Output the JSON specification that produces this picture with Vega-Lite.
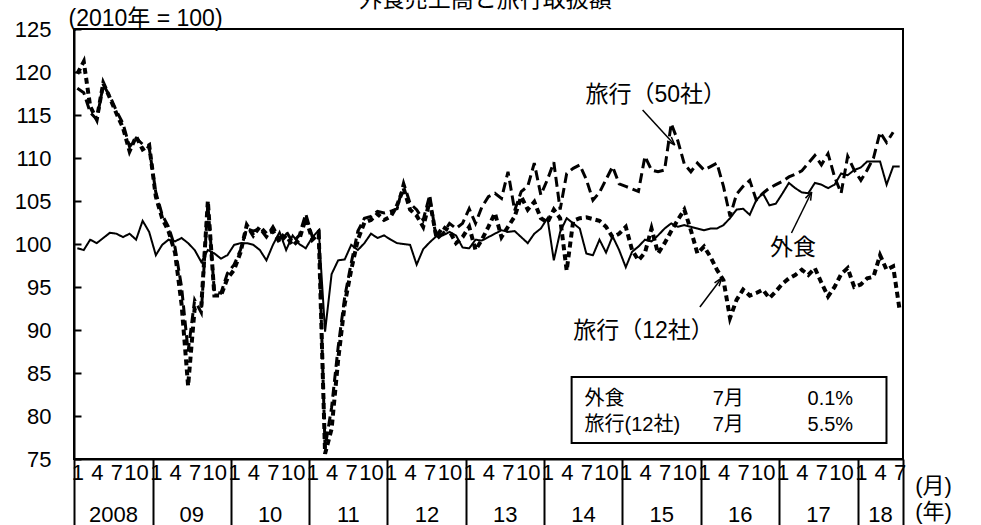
{
  "$schema": "https://vega.github.io/schema/vega-lite/v6.json",
  "width": 829,
  "height": 430,
  "autosize": "none",
  "padding": {"left": 74, "top": 29, "right": 78, "bottom": 66},
  "background": "white",
  "config": {
    "font": "Liberation Sans, Noto Sans CJK JP",
    "view": {"stroke": "black", "strokeWidth": 2},
    "axis": {"labelColor": "black", "titleColor": "black", "titleFontWeight": "normal"}
  },
  "data": {
    "values": [
      {"month": "2008-01", "food": 99.5, "travel50": 118.1, "travel12": 119.8},
      {"month": "2008-02", "food": 99.3, "travel50": 117.6, "travel12": 121.2},
      {"month": "2008-03", "food": 100.5, "travel50": 115.3, "travel12": 116.0},
      {"month": "2008-04", "food": 100.1, "travel50": 114.5, "travel12": 114.5},
      {"month": "2008-05", "food": 100.7, "travel50": 118.5, "travel12": 118.7},
      {"month": "2008-06", "food": 101.3, "travel50": 117.2, "travel12": 117.0},
      {"month": "2008-07", "food": 101.2, "travel50": 115.5, "travel12": 115.2},
      {"month": "2008-08", "food": 100.8, "travel50": 114.0, "travel12": 113.5},
      {"month": "2008-09", "food": 101.2, "travel50": 111.3, "travel12": 110.8},
      {"month": "2008-10", "food": 100.5, "travel50": 112.3, "travel12": 112.5},
      {"month": "2008-11", "food": 102.7, "travel50": 111.6, "travel12": 111.0},
      {"month": "2008-12", "food": 101.4, "travel50": 111.2, "travel12": 111.5},
      {"month": "2009-01", "food": 98.7, "travel50": 106.0, "travel12": 105.5},
      {"month": "2009-02", "food": 99.9, "travel50": 103.4, "travel12": 103.0},
      {"month": "2009-03", "food": 100.5, "travel50": 102.0, "travel12": 101.5},
      {"month": "2009-04", "food": 100.3, "travel50": 99.6, "travel12": 99.0},
      {"month": "2009-05", "food": 100.7, "travel50": 95.0, "travel12": 93.0},
      {"month": "2009-06", "food": 100.1, "travel50": 87.5, "travel12": 83.5},
      {"month": "2009-07", "food": 99.3, "travel50": 93.5, "travel12": 92.5},
      {"month": "2009-08", "food": 97.9, "travel50": 92.0, "travel12": 92.8},
      {"month": "2009-09", "food": 99.3, "travel50": 104.7, "travel12": 105.0},
      {"month": "2009-10", "food": 98.9, "travel50": 94.4, "travel12": 94.0},
      {"month": "2009-11", "food": 98.3, "travel50": 94.3, "travel12": 94.0},
      {"month": "2009-12", "food": 98.7, "travel50": 96.6, "travel12": 96.0},
      {"month": "2010-01", "food": 99.9, "travel50": 97.6, "travel12": 97.0},
      {"month": "2010-02", "food": 100.1, "travel50": 99.3, "travel12": 99.0},
      {"month": "2010-03", "food": 100.1, "travel50": 101.8, "travel12": 102.2},
      {"month": "2010-04", "food": 99.9, "travel50": 101.5, "travel12": 101.0},
      {"month": "2010-05", "food": 99.3, "travel50": 101.8, "travel12": 102.0},
      {"month": "2010-06", "food": 98.1, "travel50": 100.8, "travel12": 101.2},
      {"month": "2010-07", "food": 99.9, "travel50": 102.0, "travel12": 101.5},
      {"month": "2010-08", "food": 101.4, "travel50": 100.6, "travel12": 100.2},
      {"month": "2010-09", "food": 99.3, "travel50": 101.5, "travel12": 101.0},
      {"month": "2010-10", "food": 101.0, "travel50": 100.2, "travel12": 99.8},
      {"month": "2010-11", "food": 100.0, "travel50": 101.0, "travel12": 100.5},
      {"month": "2010-12", "food": 99.5, "travel50": 103.5, "travel12": 103.0},
      {"month": "2011-01", "food": 100.8, "travel50": 100.8, "travel12": 100.5},
      {"month": "2011-02", "food": 101.6, "travel50": 101.5, "travel12": 101.2},
      {"month": "2011-03", "food": 89.8, "travel50": 76.3, "travel12": 75.6},
      {"month": "2011-04", "food": 96.5, "travel50": 81.0, "travel12": 78.5},
      {"month": "2011-05", "food": 98.1, "travel50": 88.0, "travel12": 86.5},
      {"month": "2011-06", "food": 98.2, "travel50": 93.8, "travel12": 93.0},
      {"month": "2011-07", "food": 99.9, "travel50": 97.8, "travel12": 97.0},
      {"month": "2011-08", "food": 99.3, "travel50": 101.5, "travel12": 100.5},
      {"month": "2011-09", "food": 100.1, "travel50": 103.0, "travel12": 102.5},
      {"month": "2011-10", "food": 101.2, "travel50": 103.2, "travel12": 102.8},
      {"month": "2011-11", "food": 100.7, "travel50": 103.8, "travel12": 103.5},
      {"month": "2011-12", "food": 101.0, "travel50": 103.6, "travel12": 102.8},
      {"month": "2012-01", "food": 100.5, "travel50": 103.8, "travel12": 103.2},
      {"month": "2012-02", "food": 100.1, "travel50": 104.1, "travel12": 104.5},
      {"month": "2012-03", "food": 100.0, "travel50": 107.1, "travel12": 106.5},
      {"month": "2012-04", "food": 99.9, "travel50": 104.7, "travel12": 104.0},
      {"month": "2012-05", "food": 97.6, "travel50": 104.0, "travel12": 103.3},
      {"month": "2012-06", "food": 99.4, "travel50": 102.8, "travel12": 102.0},
      {"month": "2012-07", "food": 100.2, "travel50": 105.7, "travel12": 105.0},
      {"month": "2012-08", "food": 100.9, "travel50": 100.5, "travel12": 100.8},
      {"month": "2012-09", "food": 101.0, "travel50": 101.2, "travel12": 102.0},
      {"month": "2012-10", "food": 101.4, "travel50": 102.4, "travel12": 101.5},
      {"month": "2012-11", "food": 101.0, "travel50": 101.8, "travel12": 100.1},
      {"month": "2012-12", "food": 99.6, "travel50": 102.4, "travel12": 100.8},
      {"month": "2013-01", "food": 99.5, "travel50": 104.1, "travel12": 102.0},
      {"month": "2013-02", "food": 100.5, "travel50": 102.4, "travel12": 99.3},
      {"month": "2013-03", "food": 100.4, "travel50": 104.3, "travel12": 100.5},
      {"month": "2013-04", "food": 100.8, "travel50": 105.5, "travel12": 102.0},
      {"month": "2013-05", "food": 101.2, "travel50": 105.9, "travel12": 103.6},
      {"month": "2013-06", "food": 101.6, "travel50": 105.3, "travel12": 100.8},
      {"month": "2013-07", "food": 101.4, "travel50": 108.4, "travel12": 102.0},
      {"month": "2013-08", "food": 101.5, "travel50": 103.9, "travel12": 103.2},
      {"month": "2013-09", "food": 100.8, "travel50": 106.1, "travel12": 105.5},
      {"month": "2013-10", "food": 100.1, "travel50": 106.7, "travel12": 104.0},
      {"month": "2013-11", "food": 101.2, "travel50": 109.4, "travel12": 104.9},
      {"month": "2013-12", "food": 101.8, "travel50": 105.7, "travel12": 103.0},
      {"month": "2014-01", "food": 103.0, "travel50": 107.5, "travel12": 102.5},
      {"month": "2014-02", "food": 98.1, "travel50": 109.5, "travel12": 104.0},
      {"month": "2014-03", "food": 101.4, "travel50": 104.0, "travel12": 103.0},
      {"month": "2014-04", "food": 103.0, "travel50": 108.2, "travel12": 96.9},
      {"month": "2014-05", "food": 102.4, "travel50": 108.8, "travel12": 102.7},
      {"month": "2014-06", "food": 101.8, "travel50": 109.2, "travel12": 103.0},
      {"month": "2014-07", "food": 98.9, "travel50": 107.5, "travel12": 103.1},
      {"month": "2014-08", "food": 98.7, "travel50": 105.1, "travel12": 102.9},
      {"month": "2014-09", "food": 100.5, "travel50": 106.0, "travel12": 102.7},
      {"month": "2014-10", "food": 99.0, "travel50": 107.5, "travel12": 102.0},
      {"month": "2014-11", "food": 100.9, "travel50": 109.0, "travel12": 100.8},
      {"month": "2014-12", "food": 99.3, "travel50": 107.0, "travel12": 101.2},
      {"month": "2015-01", "food": 97.3, "travel50": 106.7, "travel12": 102.0},
      {"month": "2015-02", "food": 99.1, "travel50": 106.4, "travel12": 99.3},
      {"month": "2015-03", "food": 99.7, "travel50": 106.1, "travel12": 98.1},
      {"month": "2015-04", "food": 100.5, "travel50": 110.2, "travel12": 99.0},
      {"month": "2015-05", "food": 100.3, "travel50": 108.6, "travel12": 101.8},
      {"month": "2015-06", "food": 101.0, "travel50": 108.4, "travel12": 98.9},
      {"month": "2015-07", "food": 101.8, "travel50": 108.6, "travel12": 100.1},
      {"month": "2015-08", "food": 102.4, "travel50": 114.0, "travel12": 101.5},
      {"month": "2015-09", "food": 102.0, "travel50": 112.0, "travel12": 102.8},
      {"month": "2015-10", "food": 102.2, "travel50": 109.3, "travel12": 104.0},
      {"month": "2015-11", "food": 102.0, "travel50": 108.4, "travel12": 101.6},
      {"month": "2015-12", "food": 101.8, "travel50": 109.4, "travel12": 98.9},
      {"month": "2016-01", "food": 101.6, "travel50": 108.6, "travel12": 99.7},
      {"month": "2016-02", "food": 101.8, "travel50": 109.0, "travel12": 98.5},
      {"month": "2016-03", "food": 101.8, "travel50": 109.4, "travel12": 97.0},
      {"month": "2016-04", "food": 102.2, "travel50": 106.7, "travel12": 95.8},
      {"month": "2016-05", "food": 103.0, "travel50": 103.2, "travel12": 91.4},
      {"month": "2016-06", "food": 104.0, "travel50": 105.8, "travel12": 93.5},
      {"month": "2016-07", "food": 104.1, "travel50": 106.7, "travel12": 94.7},
      {"month": "2016-08", "food": 103.4, "travel50": 107.4, "travel12": 94.0},
      {"month": "2016-09", "food": 105.1, "travel50": 105.1, "travel12": 94.3},
      {"month": "2016-10", "food": 105.9, "travel50": 105.9, "travel12": 94.7},
      {"month": "2016-11", "food": 104.5, "travel50": 106.5, "travel12": 93.7},
      {"month": "2016-12", "food": 104.7, "travel50": 106.9, "travel12": 94.5},
      {"month": "2017-01", "food": 105.9, "travel50": 107.3, "travel12": 95.4},
      {"month": "2017-02", "food": 107.1, "travel50": 107.8, "travel12": 96.0},
      {"month": "2017-03", "food": 106.5, "travel50": 108.1, "travel12": 96.4},
      {"month": "2017-04", "food": 106.0, "travel50": 108.5, "travel12": 97.0},
      {"month": "2017-05", "food": 105.9, "travel50": 109.4, "travel12": 96.4},
      {"month": "2017-06", "food": 107.1, "travel50": 110.3, "travel12": 97.2},
      {"month": "2017-07", "food": 106.9, "travel50": 109.2, "travel12": 95.5},
      {"month": "2017-08", "food": 106.5, "travel50": 110.5, "travel12": 93.9},
      {"month": "2017-09", "food": 106.9, "travel50": 107.8, "travel12": 95.0},
      {"month": "2017-10", "food": 108.2, "travel50": 105.9, "travel12": 96.5},
      {"month": "2017-11", "food": 108.0, "travel50": 110.2, "travel12": 97.2},
      {"month": "2017-12", "food": 108.6, "travel50": 108.6, "travel12": 95.0},
      {"month": "2018-01", "food": 108.9, "travel50": 107.4, "travel12": 95.3},
      {"month": "2018-02", "food": 109.6, "travel50": 108.6, "travel12": 96.0},
      {"month": "2018-03", "food": 109.6, "travel50": 110.0, "travel12": 96.2},
      {"month": "2018-04", "food": 109.6, "travel50": 113.0, "travel12": 98.7},
      {"month": "2018-05", "food": 106.9, "travel50": 111.8, "travel12": 97.0},
      {"month": "2018-06", "food": 109.0, "travel50": 113.0, "travel12": 97.4},
      {"month": "2018-07", "food": 109.0, "travel50": null, "travel12": 92.3}
    ]
  },
  "resolve": {"axis": {"x": "independent", "y": "independent"}},
  "layer": [
    {
      "transform": [{"fold": ["food", "travel50", "travel12"], "as": ["series", "value"]}],
      "mark": {"type": "line", "color": "black"},
      "encoding": {
        "x": {
          "field": "month", "timeUnit": "utcyearmonth", "type": "temporal", "bandPosition": 0.5,
          "scale": {"type": "utc", "domain": [{"year": 2008, "month": 1, "date": 1, "utc": true}, {"year": 2018, "month": 8, "date": 1, "utc": true}]},
          "axis": {
            "orient": "bottom", "title": "(月)", "tickCount": {"interval": "month", "step": 3},
            "labelExpr": "utcFormat(datum.value, '%-m')", "ticks": false, "grid": false,
            "domainColor": "black", "domainWidth": 2, "labelFontSize": 22, "labelPadding": 3,
            "labelOffset": 3.3, "labelOverlap": false, "labelFlush": false, "labelBound": false,
            "titleX": 859, "titleY": 26, "titleAngle": 0, "titleAlign": "center", "titleBaseline": "middle", "titleFontSize": 22
          }
        },
        "y": {
          "field": "value", "type": "quantitative",
          "scale": {"domain": [75, 125], "zero": false, "nice": false},
          "axis": {
            "orient": "left",
            "values": [75, 80, 85, 90, 95, 100, 105, 110, 115, 120, 125],
            "tickSize": -7, "tickColor": "black", "tickWidth": 2, "domainColor": "black", "domainWidth": 2,
            "grid": false, "labelFontSize": 22, "labelPadding": 30, "labelFlush": false, "labelOverlap": false,
            "title": "(2010年 = 100)", "titleAngle": 0, "titleX": -6, "titleY": -4, "titleAlign": "left",
            "titleBaseline": "alphabetic", "titleFontSize": 23
          }
        },
        "strokeDash": {"field": "series", "type": "nominal", "scale": {"domain": ["food", "travel50", "travel12"], "range": [[1, 0], [10, 5], [6, 4]]}, "legend": null},
        "strokeWidth": {"field": "series", "type": "nominal", "scale": {"domain": ["food", "travel50", "travel12"], "range": [2, 4, 1.8]}, "legend": null}
      }
    },
    {
      "mark": {"type": "point", "opacity": 0},
      "encoding": {
        "x": {
          "field": "month", "timeUnit": "utcyearmonth", "type": "temporal", "bandPosition": 0.5,
          "scale": {"type": "utc", "domain": [{"year": 2008, "month": 1, "date": 1, "utc": true}, {"year": 2018, "month": 8, "date": 1, "utc": true}]},
          "axis": {
            "orient": "bottom", "title": null, "labels": false, "ticks": true, "tickSize": 66, "tickWidth": 2,
            "tickColor": "black", "domain": false, "grid": false,
            "values": [
              {"year": 2008, "month": 1, "date": 1, "utc": true}, {"year": 2009, "month": 1, "date": 1, "utc": true},
              {"year": 2010, "month": 1, "date": 1, "utc": true}, {"year": 2011, "month": 1, "date": 1, "utc": true},
              {"year": 2012, "month": 1, "date": 1, "utc": true}, {"year": 2013, "month": 1, "date": 1, "utc": true},
              {"year": 2014, "month": 1, "date": 1, "utc": true}, {"year": 2015, "month": 1, "date": 1, "utc": true},
              {"year": 2016, "month": 1, "date": 1, "utc": true}, {"year": 2017, "month": 1, "date": 1, "utc": true},
              {"year": 2018, "month": 1, "date": 1, "utc": true}, {"year": 2018, "month": 8, "date": 1, "utc": true}
            ]
          }
        }
      }
    },
    {
      "mark": {"type": "point", "opacity": 0},
      "encoding": {
        "x": {
          "field": "month", "timeUnit": "utcyearmonth", "type": "temporal", "bandPosition": 0.5,
          "scale": {"type": "utc", "domain": [{"year": 2008, "month": 1, "date": 1, "utc": true}, {"year": 2018, "month": 8, "date": 1, "utc": true}]},
          "axis": {
            "orient": "bottom", "title": "(年)", "ticks": false, "domain": false, "grid": false,
            "labelExpr": "utcyear(datum.value) == 2008 ? '2008' : utcFormat(datum.value, '%y')",
            "labelPadding": 45, "labelFontSize": 22, "labelOverlap": false, "labelFlush": false, "labelBound": false,
            "titleX": 859, "titleY": 52, "titleAngle": 0, "titleAlign": "center", "titleBaseline": "middle", "titleFontSize": 22,
            "values": [
              {"year": 2008, "month": 7, "date": 1, "utc": true}, {"year": 2009, "month": 7, "date": 1, "utc": true},
              {"year": 2010, "month": 7, "date": 1, "utc": true}, {"year": 2011, "month": 7, "date": 1, "utc": true},
              {"year": 2012, "month": 7, "date": 1, "utc": true}, {"year": 2013, "month": 7, "date": 1, "utc": true},
              {"year": 2014, "month": 7, "date": 1, "utc": true}, {"year": 2015, "month": 7, "date": 1, "utc": true},
              {"year": 2016, "month": 7, "date": 1, "utc": true}, {"year": 2017, "month": 7, "date": 1, "utc": true},
              {"year": 2018, "month": 4, "date": 16, "utc": true}
            ]
          }
        }
      }
    },
    {
      "data": {"values": [{}]},
      "mark": {"type": "text", "text": "外食売上高と旅行取扱額", "fontSize": 23, "align": "center", "baseline": "alphabetic", "color": "black"},
      "encoding": {
        "x": {"datum": {"year": 2013, "month": 4, "date": 1, "utc": true}, "type": "temporal", "axis": null},
        "y": {"datum": 127.6, "type": "quantitative", "axis": null}
      }
    },
    {
      "data": {"values": [{}]},
      "mark": {"type": "rect", "fill": "white", "stroke": "black", "strokeWidth": 2},
      "encoding": {
        "x": {"datum": {"year": 2014, "month": 5, "date": 9, "utc": true}, "type": "temporal", "axis": null},
        "x2": {"datum": {"year": 2018, "month": 5, "date": 16, "utc": true}},
        "y": {"datum": 84.53, "type": "quantitative", "axis": null},
        "y2": {"datum": 76.86}
      }
    },
    {
      "data": {"values": [{}]},
      "mark": {"type": "text", "text": "外食", "fontSize": 20, "align": "left", "baseline": "middle", "color": "black"},
      "encoding": {
        "x": {"datum": {"year": 2014, "month": 7, "date": 8, "utc": true}, "type": "temporal", "axis": null},
        "y": {"datum": 81.98, "type": "quantitative", "axis": null}
      }
    },
    {
      "data": {"values": [{}]},
      "mark": {"type": "text", "text": "旅行(12社)", "fontSize": 20, "align": "left", "baseline": "middle", "color": "black"},
      "encoding": {
        "x": {"datum": {"year": 2014, "month": 7, "date": 8, "utc": true}, "type": "temporal", "axis": null},
        "y": {"datum": 78.95, "type": "quantitative", "axis": null}
      }
    },
    {
      "data": {"values": [{}]},
      "mark": {"type": "text", "text": "7月", "fontSize": 20, "align": "left", "baseline": "middle", "color": "black"},
      "encoding": {
        "x": {"datum": {"year": 2016, "month": 2, "date": 26, "utc": true}, "type": "temporal", "axis": null},
        "y": {"datum": 81.98, "type": "quantitative", "axis": null}
      }
    },
    {
      "data": {"values": [{}]},
      "mark": {"type": "text", "text": "7月", "fontSize": 20, "align": "left", "baseline": "middle", "color": "black"},
      "encoding": {
        "x": {"datum": {"year": 2016, "month": 2, "date": 26, "utc": true}, "type": "temporal", "axis": null},
        "y": {"datum": 78.95, "type": "quantitative", "axis": null}
      }
    },
    {
      "data": {"values": [{}]},
      "mark": {"type": "text", "text": "0.1%", "fontSize": 20, "align": "left", "baseline": "middle", "color": "black"},
      "encoding": {
        "x": {"datum": {"year": 2017, "month": 5, "date": 13, "utc": true}, "type": "temporal", "axis": null},
        "y": {"datum": 81.98, "type": "quantitative", "axis": null}
      }
    },
    {
      "data": {"values": [{}]},
      "mark": {"type": "text", "text": "5.5%", "fontSize": 20, "align": "left", "baseline": "middle", "color": "black"},
      "encoding": {
        "x": {"datum": {"year": 2017, "month": 5, "date": 13, "utc": true}, "type": "temporal", "axis": null},
        "y": {"datum": 78.95, "type": "quantitative", "axis": null}
      }
    },
    {
      "data": {"values": [{}]},
      "mark": {"type": "text", "text": "旅行（50社）", "fontSize": 23, "align": "center", "baseline": "middle", "color": "black"},
      "encoding": {
        "x": {"datum": {"year": 2015, "month": 6, "date": 5, "utc": true}, "type": "temporal", "axis": null},
        "y": {"datum": 117.33, "type": "quantitative", "axis": null}
      }
    },
    {
      "data": {"values": [{}]},
      "mark": {"type": "text", "text": "外食", "fontSize": 23, "align": "center", "baseline": "middle", "color": "black"},
      "encoding": {
        "x": {"datum": {"year": 2017, "month": 3, "date": 6, "utc": true}, "type": "temporal", "axis": null},
        "y": {"datum": 99.48, "type": "quantitative", "axis": null}
      }
    },
    {
      "data": {"values": [{}]},
      "mark": {"type": "text", "text": "旅行（12社）", "fontSize": 23, "align": "center", "baseline": "middle", "color": "black"},
      "encoding": {
        "x": {"datum": {"year": 2015, "month": 4, "date": 9, "utc": true}, "type": "temporal", "axis": null},
        "y": {"datum": 89.83, "type": "quantitative", "axis": null}
      }
    },
    {
      "data": {"values": [{}]},
      "mark": {"type": "rule", "color": "black", "strokeWidth": 1.5},
      "encoding": {
        "x": {"datum": {"year": 2015, "month": 4, "date": 5, "utc": true}, "type": "temporal", "axis": null},
        "x2": {"datum": {"year": 2015, "month": 9, "date": 2, "utc": true}},
        "y": {"datum": 115.58, "type": "quantitative", "axis": null},
        "y2": {"datum": 111.51}
      }
    },
    {
      "data": {"values": [{}]},
      "mark": {"type": "point", "shape": "M0,0L-0.45,1.3M0,0L0.45,1.3", "filled": false, "stroke": "black", "strokeWidth": 1.5, "size": 160, "angle": 137.6, "opacity": 1},
      "encoding": {
        "x": {"datum": {"year": 2015, "month": 9, "date": 2, "utc": true}, "type": "temporal", "axis": null},
        "y": {"datum": 111.51, "type": "quantitative", "axis": null}
      }
    },
    {
      "data": {"values": [{}]},
      "mark": {"type": "rule", "color": "black", "strokeWidth": 1.5},
      "encoding": {
        "x": {"datum": {"year": 2017, "month": 2, "date": 27, "utc": true}, "type": "temporal", "axis": null},
        "x2": {"datum": {"year": 2017, "month": 6, "date": 1, "utc": true}},
        "y": {"datum": 101.28, "type": "quantitative", "axis": null},
        "y2": {"datum": 106.05}
      }
    },
    {
      "data": {"values": [{}]},
      "mark": {"type": "point", "shape": "M0,0L-0.45,1.3M0,0L0.45,1.3", "filled": false, "stroke": "black", "strokeWidth": 1.5, "size": 160, "angle": 26, "opacity": 1},
      "encoding": {
        "x": {"datum": {"year": 2017, "month": 6, "date": 1, "utc": true}, "type": "temporal", "axis": null},
        "y": {"datum": 106.05, "type": "quantitative", "axis": null}
      }
    },
    {
      "data": {"values": [{}]},
      "mark": {"type": "rule", "color": "black", "strokeWidth": 1.5},
      "encoding": {
        "x": {"datum": {"year": 2015, "month": 12, "date": 28, "utc": true}, "type": "temporal", "axis": null},
        "x2": {"datum": {"year": 2016, "month": 4, "date": 8, "utc": true}},
        "y": {"datum": 92.67, "type": "quantitative", "axis": null},
        "y2": {"datum": 96.05}
      }
    },
    {
      "data": {"values": [{}]},
      "mark": {"type": "point", "shape": "M0,0L-0.45,1.3M0,0L0.45,1.3", "filled": false, "stroke": "black", "strokeWidth": 1.5, "size": 160, "angle": 37, "opacity": 1},
      "encoding": {
        "x": {"datum": {"year": 2016, "month": 4, "date": 8, "utc": true}, "type": "temporal", "axis": null},
        "y": {"datum": 96.05, "type": "quantitative", "axis": null}
      }
    }
  ]
}
